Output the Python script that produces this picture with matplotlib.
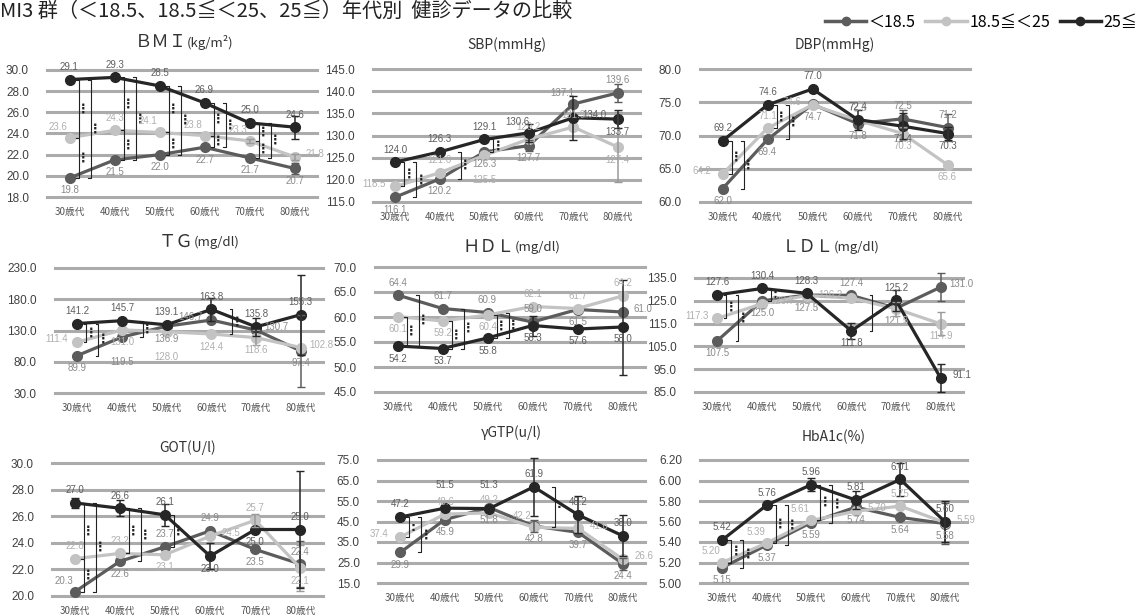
import matplotlib.pyplot as plt
import numpy as np

plt.rcParams['font.family'] = ['Noto Sans CJK JP', 'DejaVu Sans']

W, H = 1142, 616

ages = ['30歳代', '40歳代', '50歳代', '60歳代', '70歳代', '80歳代']
groups = ['＜18.5', '18.5≦＜25', '25≦']

# values per panel: (<18.5, 18.5-25, 25<=)
bmi_low = [19.8, 21.5, 22.0, 22.7, 21.7, 20.7]
bmi_mid = [23.6, 24.3, 24.1, 23.8, 23.3, 21.8]
bmi_high = [29.1, 29.3, 28.5, 26.9, 25.0, 24.6]

sbp_low = [116.1, 120.2, 126.3, 127.7, 137.1, 139.6]
sbp_mid = [118.5, 121.6, 125.5, 129.2, 131.9, 127.4]
sbp_high = [124.0, 126.3, 129.1, 130.6, 134.0, 133.7]

dbp_low = [62.0, 69.4, 74.7, 71.8, 72.5, 71.2]
dbp_mid = [64.2, 71.1, 74.6, 72.3, 70.3, 65.6]
dbp_high = [69.2, 74.6, 77.0, 72.4, 71.4, 70.3]

tg_low = [89.9, 119.5, 136.9, 146.7, 130.7, 97.4]
tg_mid = [111.4, 131.0, 128.0, 124.4, 118.6, 102.8]
tg_high = [141.2, 145.7, 139.1, 163.8, 135.8, 155.3]

hdl_low = [64.4, 61.7, 60.9, 59.0, 61.5, 61.0]
hdl_mid = [60.1, 59.2, 60.4, 62.1, 61.7, 64.2]
hdl_high = [54.2, 53.7, 55.8, 58.3, 57.6, 58.0]

ldl_low = [107.5, 125.0, 127.5, 127.4, 121.7, 131.0]
ldl_mid = [117.3, 123.7, 127.3, 126.2, 121.5, 114.9]
ldl_high = [127.6, 130.4, 128.3, 111.8, 125.2, 91.1]

got_low = [20.3, 22.6, 23.7, 24.9, 23.5, 22.4]
got_mid = [22.8, 23.2, 23.1, 24.5, 25.7, 22.1]
got_high = [27.0, 26.6, 26.1, 23.0, 25.0, 25.0]

gtp_low = [29.9, 45.9, 51.8, 42.8, 39.7, 24.4]
gtp_mid = [37.4, 48.6, 49.2, 42.2, 41.6, 26.6]
gtp_high = [47.2, 51.5, 51.3, 61.9, 48.2, 38.0]

hba_low = [5.15, 5.37, 5.59, 5.74, 5.64, 5.58]
hba_mid = [5.20, 5.39, 5.61, 5.70, 5.75, 5.59]
hba_high = [5.42, 5.76, 5.96, 5.81, 6.01, 5.60]

# error bar half widths (<18.5, 18.5-25, 25<=)
bmi_err = [[0, 0, 0, 0, 0.3, 0.5], [0, 0, 0, 0, 0.2, 0.3], [0, 0, 0, 0.3, 0.3, 1.1]]
sbp_err = [[0, 0, 0, 1.2, 0, 2.0], [0, 0, 0, 0, 0, 8.0], [0, 0, 0, 2.0, 5.0, 2.0]]
dbp_err = [[0, 0, 0, 0, 1.3, 2.0], [0, 0, 0, 0, 1.0, 0], [0, 0, 0, 1.5, 2.0, 1.0]]
tg_err = [[0, 0, 0, 0, 0, 58], [0, 0, 0, 0, 12, 0], [0, 0, 0, 18, 15, 64]]
hdl_err = [[0, 0, 0, 0, 0, 0], [0, 0, 0, 0, 0, 0], [0, 0, 0, 2.0, 0, 9.5]]
ldl_err = [[0, 0, 0, 0, 0, 6.0], [0, 0, 0, 0, 3.0, 5.0], [0, 0, 0, 3.5, 4.5, 6.0]]
got_err = [[0, 0, 0, 0, 0, 1.7], [0, 0, 0, 0, 0.5, 1.7], [0.4, 0.6, 0.8, 1.0, 0, 4.4]]
gtp_err = [[0, 0, 0, 3.0, 0, 3.0], [0, 0, 0, 0, 0, 0], [0, 0, 0, 14.0, 9.0, 10.0]]
hba_err = [[0, 0, 0, 0, 0, 0.2], [0, 0, 0, 0, 0, 0], [0, 0, 0.06, 0.09, 0.16, 0.2]]

# significant pairs: (age index, group a, group b, dots)  groups 0=<18.5 1=18.5-25 2=25<=
bmi_sig = [(a, g1, g2, 3) for a in range(5) for g1, g2 in [(2, 1), (1, 0), (2, 0)]]
sbp_sig = [(0, 2, 1, 3), (0, 2, 0, 3), (1, 2, 0, 3), (2, 2, 0, 3)]
dbp_sig = [(0, 2, 1, 3), (0, 2, 0, 3), (1, 2, 1, 3), (1, 2, 0, 3)]
tg_sig = [(0, 2, 1, 3), (0, 2, 0, 3), (1, 2, 0, 3), (3, 2, 1, 3)]
hdl_sig = [(0, 0, 2, 3), (0, 1, 2, 3), (1, 0, 2, 3), (1, 1, 2, 3), (2, 0, 2, 3), (2, 1, 2, 3)]
ldl_sig = [(0, 2, 1, 3), (0, 2, 0, 3), (1, 2, 0, 2), (3, 0, 2, 1)]
got_sig = [(0, 2, 1, 3), (0, 1, 0, 3), (0, 2, 0, 3), (1, 2, 1, 3), (1, 2, 0, 3), (2, 2, 0, 3)]
gtp_sig = [(0, 2, 1, 2), (0, 2, 0, 3), (3, 2, 1, 1)]
hba_sig = [(0, 2, 1, 3), (0, 2, 0, 3), (1, 2, 1, 3), (1, 2, 0, 3), (2, 2, 1, 3), (2, 2, 0, 3)]

panels = [
    ('ＢＭＩ', '(kg/m²)', (bmi_low, bmi_mid, bmi_high), bmi_err, bmi_sig, np.arange(18, 30.1, 2), '{:.1f}'),
    ('SBP(mmHg)', '', (sbp_low, sbp_mid, sbp_high), sbp_err, sbp_sig, np.arange(115, 145.1, 5), '{:.1f}'),
    ('DBP(mmHg)', '', (dbp_low, dbp_mid, dbp_high), dbp_err, dbp_sig, np.arange(60, 80.1, 5), '{:.1f}'),
    ('ＴＧ', '(mg/dl)', (tg_low, tg_mid, tg_high), tg_err, tg_sig, np.arange(30, 230.1, 50), '{:.1f}'),
    ('ＨＤＬ', '(mg/dl)', (hdl_low, hdl_mid, hdl_high), hdl_err, hdl_sig, np.arange(45, 70.1, 5), '{:.1f}'),
    ('ＬＤＬ', '(mg/dl)', (ldl_low, ldl_mid, ldl_high), ldl_err, ldl_sig, np.arange(85, 135.1, 10), '{:.1f}'),
    ('GOT(U/l)', '', (got_low, got_mid, got_high), got_err, got_sig, np.arange(20, 30.1, 2), '{:.1f}'),
    ('γGTP(u/l)', '', (gtp_low, gtp_mid, gtp_high), gtp_err, gtp_sig, np.arange(15, 75.1, 10), '{:.1f}'),
    ('HbA1c(%)', '', (hba_low, hba_mid, hba_high), hba_err, hba_sig, np.arange(5.0, 6.21, 0.2), '{:.2f}'),
]

# label placement per series (<18.5, 18.5-25, 25<=)
places = [
    ('bbbbbb', 'AaAAAr', 'aaaaaa'),
    ('bbbbAa', 'laBaab', 'aaaArb'),
    ('bbbbaa', 'lalabb', 'aaaabb'),
    ('bBblrb', 'lbBbbr', 'aaaaaa'),
    ('aaaabr', 'bbbaaa', 'bbbbbb'),
    ('bbbabr', 'lrblbb', 'aaabar'),
    ('Abaaba', 'aabrab', 'aaabba'),
    ('bbbbbb', 'laaArr', 'aUUaaa'),
    ('bbbbbb', 'AAArar', 'aaaaaa'),
]
offsets = {'a': (0, 9), 'b': (0, -9), 'B': (0, -18), 'U': (0, 17),
           'l': (-15, 2), 'r': (15, 2), 'A': (-8, 8)}

# pixel boxes: left, top(ymax), right, bottom(ymin), title y
boxes = [
    (47, 70, 317, 197, 42), (373, 69, 640, 202, 45), (700, 69, 970, 202, 45),
    (55, 268, 323, 393, 242), (375, 267, 645, 392, 247), (695, 278, 963, 392, 247),
    (52, 463, 323, 596, 448), (378, 460, 645, 583, 433), (700, 460, 967, 583, 437),
]

line_colors = ['#5c5c5c', '#c3c3c3', '#262626']
label_colors = ['#8a8a8a', '#b0b0b0', '#5f5f5f']

fig = plt.figure(figsize=(W / 100, H / 100), dpi=100)
fig.patch.set_facecolor('white')

x = np.arange(len(ages))
for k, ((title, unit, series, errs, sigs, ticks, fmt), (l, t, r, b, ty)) in enumerate(zip(panels, boxes)):
    ax = fig.add_axes([l / W, 1 - b / H, (r - l) / W, (b - t) / H])
    ax.set_xlim(-0.5, 5.5)
    ax.set_ylim(ticks[0], ticks[-1])
    for v in ticks:
        ax.axhline(v, color='#ababab', lw=2.2, zorder=0, clip_on=False)
    for s in ax.spines.values():
        s.set_visible(False)
    ax.set_yticks(ticks)
    ax.set_yticklabels([fmt.format(v) for v in ticks], fontsize=8.5, color='#404040',
                       family=['Liberation Sans'])
    ax.set_xticks(x)
    ax.set_xticklabels(ages, fontsize=7, color='#555555')
    ax.tick_params(length=0, axis='y', pad=13)
    ax.tick_params(length=0, axis='x', pad=7)
    ax.patch.set_alpha(0)

    for i, (vals, err) in enumerate(zip(series, errs)):
        ax.plot(x, vals, color=line_colors[i], lw=2.3, marker='o', ms=7,
                zorder=3 + i, clip_on=False)
        e = np.array(err, dtype=float)
        m = e > 0
        if m.any():
            ax.errorbar(x[m], np.array(vals)[m], yerr=e[m], fmt='none',
                        ecolor=line_colors[i] if i != 1 else '#9a9a9a',
                        elinewidth=1.1, capsize=3, zorder=6, clip_on=False)
        for xi, v, p in zip(x, vals, places[k][i]):
            ax.annotate(fmt.format(v), (xi, v), xytext=offsets[p],
                        textcoords='offset points', ha='center', va='center',
                        fontsize=7, color=label_colors[i], family=['Liberation Sans'],
                        zorder=8, annotation_clip=False)

    # significance brackets
    for age, ga, gb, dots in sigs:
        ya, yb = series[ga][age], series[gb][age]
        other = series[3 - ga - gb][age]
        outer = min(ya, yb) < other < max(ya, yb)
        xb = age + (0.47 if outer else 0.2)
        ax.plot([xb - 0.06, xb, xb, xb - 0.06], [ya, ya, yb, yb], color='#222222',
                lw=0.8, zorder=7, clip_on=False)
        mark = {3: '⋮', 2: ':', 1: '·'}[dots]
        ax.text(xb + 0.1, (ya + yb) / 2, mark, ha='center', va='center', fontsize=9,
                fontweight='bold', color='#222222', family=['DejaVu Sans'], zorder=7)

    cx = (l + r) / 2
    if unit:
        fig.text((cx + 5) / W, 1 - ty / H, title, ha='right', va='center', fontsize=12.5, color='#333333')
        fig.text((cx + 5) / W, 1 - ty / H, unit, ha='left', va='center', fontsize=9.5, color='#333333')
    else:
        fig.text(cx / W, 1 - ty / H, title, ha='center', va='center', fontsize=10, color='#333333')

fig.text(0.0, 1 - 11 / H, 'MI3 群（＜18.5、18.5≦＜25、25≦）年代別  健診データの比較',
         ha='left', va='center', fontsize=14.5, color='#222222')

# legend
handles = [plt.Line2D([], [], color=c, lw=2.5, marker='o', ms=6) for c in line_colors]
fig.legend(handles, groups, loc='center right', bbox_to_anchor=(0.996, 1 - 22 / H), ncol=3,
           frameon=False, fontsize=11.5, handlelength=2.6, columnspacing=0.6,
           handletextpad=0.15, borderpad=0, borderaxespad=0)

plt.savefig('out.png', dpi=100)
